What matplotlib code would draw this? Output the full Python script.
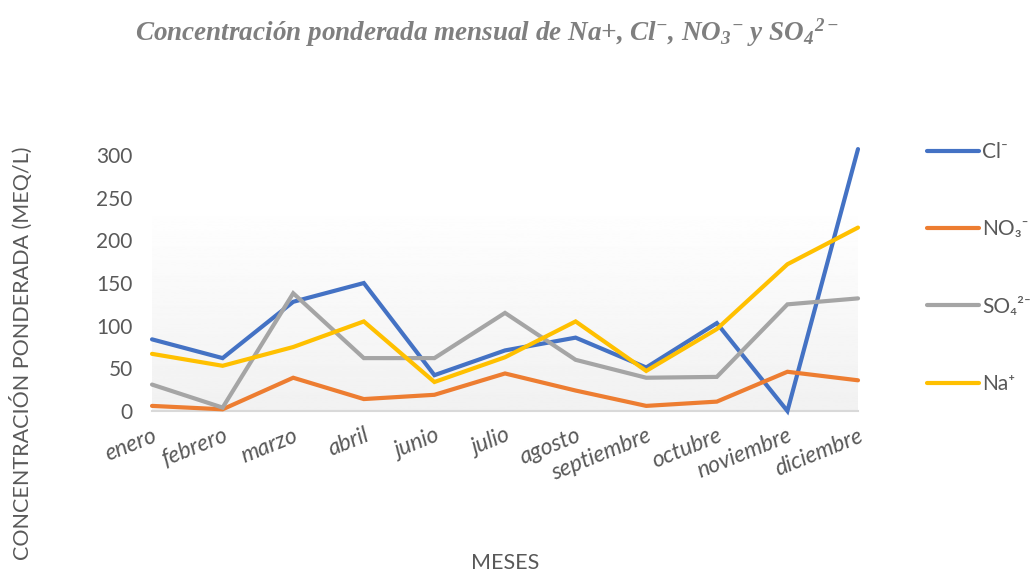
import numpy as np
import matplotlib
matplotlib.use("Agg")
import matplotlib.pyplot as plt

plt.rcParams["font.family"] = ["Lato", "DejaVu Sans"]
plt.rcParams["mathtext.fontset"] = "custom"
plt.rcParams["mathtext.rm"] = "Liberation Serif:italic:bold"
plt.rcParams["mathtext.it"] = "Liberation Serif:italic:bold"

meses = ["enero", "febrero", "marzo", "abril", "junio", "julio", "agosto",
         "septiembre", "octubre", "noviembre", "diciembre"]
cl = [84, 62, 128, 150, 42, 71, 86, 51, 103, 0, 307]
no3 = [6, 2, 39, 14, 19, 44, 24, 6, 11, 46, 36]
so4 = [31, 4, 138, 62, 62, 115, 60, 39, 40, 125, 132]
na = [67, 53, 75, 105, 34, 63, 105, 47, 96, 172, 215]

series = [("Cl⁻", cl, "#4472C4"), ("NO₃⁻", no3, "#ED7D31"),
          ("SO₄²⁻", so4, "#A5A5A5"), ("Na⁺", na, "#FFC000")]

fig = plt.figure(figsize=(10.32, 5.73), dpi=100)
ax = fig.add_axes([0.1473, 0.2827, 0.6841, 0.4616])
x = np.arange(len(meses))

# fondo degradado (blanco arriba, gris claro abajo)
grad = np.linspace(0.945, 1.0, 256).reshape(-1, 1)
ax.imshow(grad, extent=(0, len(meses) - 1, 0, 245), origin="lower", cmap="gray",
          vmin=0, vmax=1, aspect="auto", zorder=0)

for name, vals, c in series:
    ax.plot(x, vals, color=c, lw=3, label=name, solid_capstyle="round",
            solid_joinstyle="miter", clip_on=False, zorder=3)

ax.set_xlim(0, len(meses) - 1)
ax.set_ylim(0, 310)
ax.set_yticks(range(0, 301, 50))
ax.set_xticks(x)
ax.set_xticklabels(meses, rotation=22, ha="right", rotation_mode="anchor",
                   style="italic", fontsize=16.5, color="#595959")
ax.tick_params(axis="y", labelsize=15, labelcolor="#595959", length=0, pad=14)
ax.tick_params(axis="x", length=0, pad=10)
for s in ["top", "right", "left"]:
    ax.spines[s].set_visible(False)
ax.spines["bottom"].set_color("#d9d9d9")
ax.spines["bottom"].set_linewidth(1.5)

fig.text(0.021, 0.384, "CONCENTRACIÓN PONDERADA (MEQ/L)", rotation=90,
         ha="center", va="center", fontsize=15.5, color="#595959")
fig.text(0.489, 0.017, "MESES", ha="center", va="center", fontsize=15.5,
         color="#595959")
fig.text(0.472, 0.943,
         r"Concentración ponderada mensual de Na+, Cl$^{-}$, NO$_{3}$$^{-}$ y SO$_{4}$$^{2-}$",
         ha="center", va="center", fontsize=19.5, color="#7f7f7f",
         family="Liberation Serif", style="italic", weight="bold")

leg = fig.legend(loc="upper left", bbox_to_anchor=(0.88, 0.785), frameon=False,
                 fontsize=15, labelspacing=2.75, handlelength=2.5, handletextpad=0.15,
                 labelcolor="#595959")

fig.savefig("out.png", dpi=100)
